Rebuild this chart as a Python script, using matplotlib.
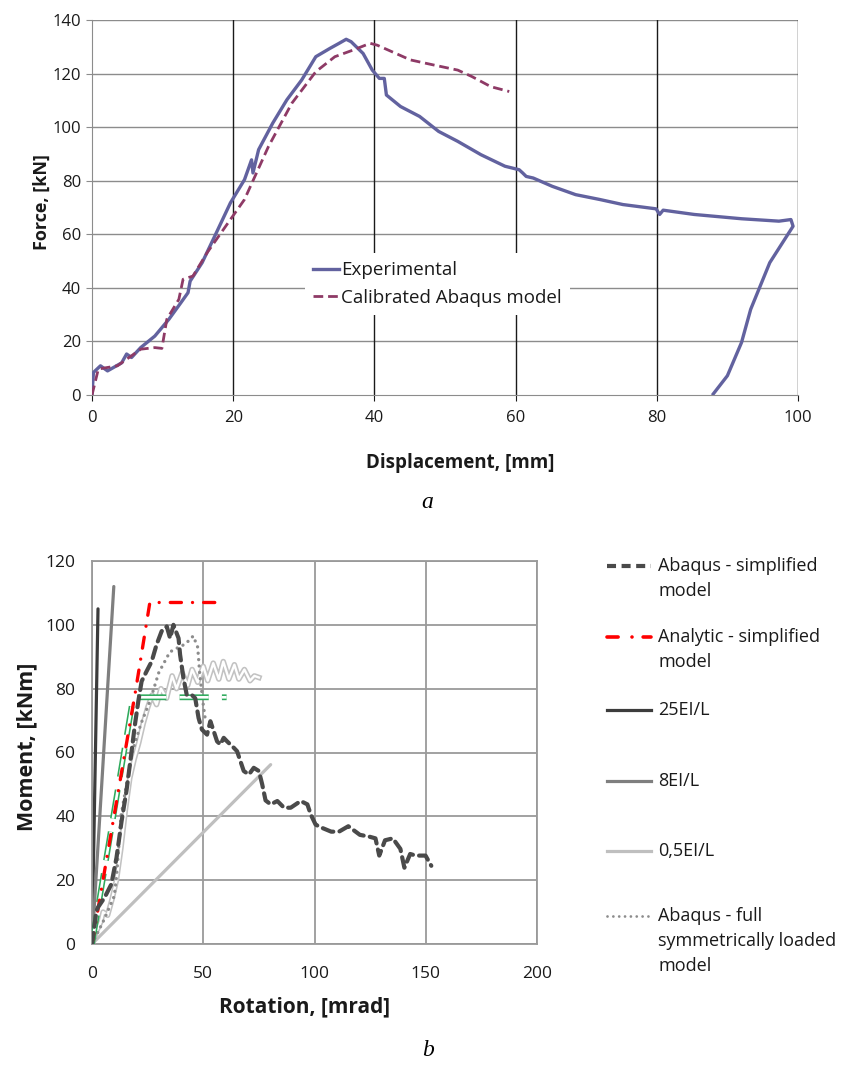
import matplotlib
matplotlib.use("Agg")
import matplotlib.pyplot as plt
from matplotlib.lines import Line2D

plt.rcParams['font.family'] = ['Open Sans', 'DejaVu Sans']
plt.rcParams['lines.scale_dashes'] = False

# ---------------- data: panel a ----------------
exp_disp = [0, 0.2, 1.2, 2.2, 3.2, 4.2, 4.9, 5.6, 6.9, 8.9, 10.9, 12.6, 13.6, 13.9, 15.6, 17.6,
            19.6, 21.6, 22.6, 22.8, 23.6, 25.6, 27.6, 29.7, 31.7, 33.7, 35.0, 36.0, 36.7, 38.4,
            39.7, 40.7, 41.4, 41.7, 43.7, 46.4, 49.1, 51.8, 55.1, 58.5, 60.5, 61.0, 61.5, 62.5,
            65.2, 68.5, 71.9, 75.2, 79.9, 80.4, 80.9, 85.3, 92.0, 97.3, 99.0, 99.3,
            96.0, 93.3, 92.0, 90.0, 88.0]
exp_force = [0, 8.4, 10.9, 9.0, 10.5, 12.0, 15.3, 14.0, 17.7, 22.0, 28.3, 34.5, 38.2, 42.5, 49.4, 60.5,
             71.7, 80.4, 87.8, 82.9, 91.6, 101.5, 110.2, 117.6, 126.3, 129.4, 131.3, 132.8, 131.9, 127.5,
             121.3, 118.2, 118.2, 112.0, 107.7, 104.0, 98.4, 94.7, 89.7, 85.4, 84.1, 82.9, 81.6, 81.0,
             77.9, 74.8, 73.0, 71.1, 69.5, 67.4, 69.0, 67.4, 65.8, 64.9, 65.5, 63.0,
             49.4, 32.0, 19.6, 7.2, 0.4]

cal_disp = [0, 0.9, 3.6, 6.9, 8.9, 9.9, 10.6, 12.3, 12.9, 14.3, 16.3, 19.6, 21.6, 25.0, 28.3,
            31.7, 34.4, 37.0, 39.4, 40.4, 45.1, 48.4, 51.8, 53.8, 56.5, 59.1]
cal_force = [0, 9.7, 10.9, 17.1, 17.7, 17.4, 28.3, 35.7, 43.2, 44.4, 53.1, 65.5, 73.0, 92.8, 108.9,
             120.7, 126.3, 128.8, 131.3, 130.6, 125.1, 123.2, 121.3, 118.9, 115.1, 113.3]

a_xticks = [0, 20, 40, 60, 80, 100]
a_yticks = [0, 20, 40, 60, 80, 100, 120, 140]

# ---------------- data: panel b ----------------
simp_rot = [0, 2.0, 2.7, 5.7, 8.7, 11.0, 13.3, 15.5, 17.8, 19.3, 20.8, 22.3, 24.5, 26.8, 29.0, 31.3,
            33.6, 35.1, 36.6, 38.9, 39.6, 41.1, 42.6, 44.9, 46.4, 47.9, 49.4, 51.7, 53.2, 54.7, 56.2,
            57.7, 59.2, 60.7, 63.7, 65.2, 68.2, 70.5, 72.7, 75.0, 76.5, 78.0, 80.3, 83.3, 86.3, 89.3,
            93.8, 96.8, 98.3, 100.5, 103.0, 107.5, 111.0, 115.2, 120.4, 124.8, 127.4, 129.1, 131.7,
            135.2, 138.6, 140.4, 143.0, 145.6, 149.9, 152.5]
simp_mom = [0, 10.4, 11.5, 14.6, 18.75, 27.0, 38.5, 48.0, 60.4, 68.75, 76.0, 82.3, 85.4, 88.5, 93.75, 98.0,
            99.5, 95.8, 100.0, 95.8, 90.6, 83.3, 78.0, 78.0, 77.0, 70.8, 67.2, 65.6, 69.8, 66.7, 63.5,
            62.5, 64.6, 63.5, 61.5, 60.4, 54.2, 53.1, 55.2, 54.2, 50.0, 45.0, 43.75, 44.8, 42.7, 42.7,
            44.8, 43.75, 40.6, 37.4, 36.5, 35.2, 35.2, 36.9, 34.2, 33.6, 33.1, 27.7, 32.5,
            33.1, 29.8, 23.9, 28.2, 27.7, 27.7, 24.5]

anal_rot = [0, 19.5, 26.0, 60.0]
anal_mom = [0, 79.0, 107.0, 107.0]

green_rot = [0, 18.5, 60.5]
green_mom = [0, 77.3, 77.3]

k25_rot = [0, 2.7]
k25_mom = [0, 105.0]
k8_rot = [0, 9.8]
k8_mom = [0, 112.0]
k05_rot = [0, 80.3]
k05_mom = [0, 56.2]

full_rot = [0, 5, 10, 11, 12, 13, 15, 18, 22, 26, 30, 35, 39, 42, 45.5, 47.5, 48.5, 50, 51]
full_mom = [0, 7, 15, 21, 30, 40, 48, 60, 69, 76, 85, 91.5, 93, 94, 96.5, 93, 84, 75, 70]

wave_rot = [0, 2, 4, 5, 7, 9, 11, 13, 15, 17, 19, 21, 23, 25, 27, 29, 31, 33.5, 36, 38, 40.5, 43,
            45, 47.5, 50, 52, 54.5, 57, 59, 61.5, 64, 66, 68.5, 71, 73, 75]
wave_mom = [0, 4, 7, 10, 9, 14, 20, 30, 42, 52, 58, 63, 69, 74, 78, 75, 80, 77, 84, 80, 85, 81,
            86, 82, 87, 82.5, 88, 83, 88.5, 83, 87.5, 83, 86, 82.5, 84, 83.5]

b_xticks = [0, 50, 100, 150, 200]
b_yticks = [0, 20, 40, 60, 80, 100, 120]

legend_b = ["Abaqus - simplified\nmodel", "Analytic - simplified\nmodel", "25EI/L", "8EI/L",
            "0,5EI/L", "Abaqus - full\nsymmetrically loaded\nmodel"]

W, H = 842, 1071
fig = plt.figure(figsize=(W / 100, H / 100), dpi=100)

def fx(px):
    return px / W

def fy(py):
    return 1 - py / H

TXT = '#1a1a1a'

# ---------------- panel a ----------------
ax1 = fig.add_axes([fx(92), fy(395), fx(798) - fx(92), fy(20) - fy(395)])
ax1.set_xlim(0, 100)
ax1.set_ylim(0, 140)
ax1.set_xticks(a_xticks)
ax1.set_yticks(a_yticks)
for y in a_yticks[1:]:
    ax1.axhline(y, color='#8c8c8c', lw=1.0, zorder=0)
for x in a_xticks[1:]:
    ax1.axvline(x, color='#1a1a1a', lw=1.0, zorder=0)
for s in ['top', 'right']:
    ax1.spines[s].set_visible(False)
ax1.spines['left'].set_color('#8c8c8c')
ax1.spines['bottom'].set_color('#8c8c8c')
ax1.tick_params(axis='y', length=4, color='#8c8c8c', labelsize=12, pad=4, labelcolor=TXT)
ax1.tick_params(axis='x', length=4, color='#1a1a1a', labelsize=12, pad=7, labelcolor=TXT)

l_exp, = ax1.plot(exp_disp, exp_force, color='#62629f', lw=2.4, zorder=3,
                  solid_joinstyle='round', label='Experimental')
l_cal, = ax1.plot(cal_disp, cal_force, color='#8e3a66', lw=2.0, zorder=4,
                  dashes=(7, 3.5), label='Calibrated Abaqus model')

ax1.set_xlabel('Displacement, [mm]', fontsize=13.5, fontweight='bold', color=TXT)
ax1.xaxis.label.set_va('center')
ax1.xaxis.set_label_coords((460 - 92) / 706, (395 - 463) / 375)
ax1.set_ylabel('Force, [kN]', fontsize=13, fontweight='bold', color=TXT)
ax1.yaxis.label.set_va('center')
ax1.yaxis.set_label_coords((42 - 92) / 706, (395 - 202) / 375)

leg = ax1.legend(handles=[l_exp, l_cal], loc='upper left',
                 bbox_to_anchor=((305 - 92) / 706, (395 - 253) / 375),
                 frameon=True, fancybox=False, edgecolor='none', facecolor='white',
                 framealpha=1, fontsize=13.5, handlelength=1.35, handletextpad=0.12,
                 labelspacing=0.5, borderpad=0.45, borderaxespad=0)
for t in leg.get_texts():
    t.set_color(TXT)

fig.text(fx(427), fy(503), 'a', fontsize=17, style='italic',
         family='Liberation Serif', ha='center', va='center')

# ---------------- panel b ----------------
ax2 = fig.add_axes([fx(92), fy(944), fx(537) - fx(92), fy(561) - fy(944)])
ax2.set_xlim(0, 200)
ax2.set_ylim(0, 120)
ax2.set_xticks(b_xticks)
ax2.set_yticks(b_yticks)
ax2.grid(True, color='#9a9a9a', lw=1.3, zorder=0)
ax2.set_axisbelow(True)
for s in ax2.spines.values():
    s.set_color('#9a9a9a')
    s.set_linewidth(1.3)
ax2.tick_params(length=0, labelsize=12.5, labelcolor=TXT)
ax2.tick_params(axis='y', pad=12)
ax2.tick_params(axis='x', pad=16)

c_simp = '#4a4a4a'
c_red = '#ff0000'
c_25 = '#3c3c3c'
c_8 = '#7f7f7f'
c_05 = '#bfbfbf'
c_full = '#8c8c8c'
c_green = '#2eaa5c'

ax2.plot(k05_rot, k05_mom, color=c_05, lw=2.3, solid_capstyle='round', zorder=2)
ax2.plot(k25_rot, k25_mom, color=c_25, lw=2.3, solid_capstyle='round', zorder=2)
ax2.plot(k8_rot, k8_mom, color=c_8, lw=2.3, solid_capstyle='round', zorder=2)
ax2.plot(wave_rot, wave_mom, color='#c2c2c2', lw=4.0, zorder=3, solid_joinstyle='round')
ax2.plot(wave_rot, wave_mom, color='white', lw=1.7, zorder=3, solid_joinstyle='round')
ax2.plot(full_rot, full_mom, color=c_full, lw=2.4, dashes=(0.01, 4.6),
         dash_capstyle='round', zorder=4)
ax2.plot(green_rot, green_mom, color=c_green, lw=4.2, dashes=(21, 9.5), zorder=5)
ax2.plot(green_rot, green_mom, color='white', lw=1.9, dashes=(21, 9.5), zorder=5)
ax2.plot(anal_rot, anal_mom, color=c_red, lw=2.4, dashes=(8, 8, 0.01, 8),
         dash_capstyle='round', zorder=6)
ax2.plot(simp_rot, simp_mom, color=c_simp, lw=3.0, dashes=(8, 4.5),
         dash_capstyle='round', zorder=7)

ax2.set_xlabel('Rotation, [mrad]', fontsize=15, fontweight='bold', color=TXT)
ax2.xaxis.label.set_va('center')
ax2.xaxis.set_label_coords((305 - 92) / 445, (944 - 1007) / 383)
ax2.set_ylabel('Moment, [kNm]', fontsize=15.5, fontweight='bold', color=TXT)
ax2.yaxis.label.set_va('center')
ax2.yaxis.set_label_coords((27 - 92) / 445, (944 - 747) / 383)

# legend for panel b (drawn at the right of the axes)
leg_styles = [
    dict(color=c_simp, lw=3.0, dashes=(6.5, 4), dash_capstyle='butt'),
    dict(color=c_red, lw=2.6, dashes=(8, 10, 0.01, 8), dash_capstyle='round'),
    dict(color=c_25, lw=2.3),
    dict(color=c_8, lw=2.3),
    dict(color=c_05, lw=2.3),
    dict(color=c_full, lw=2.0, dashes=(0.01, 4.2), dash_capstyle='round'),
]
leg_y = [566, 637, 710, 781, 851, 916]
for lab, sty, yy in zip(legend_b, leg_styles, leg_y):
    fig.add_artist(Line2D([fx(607), fx(651)], [fy(yy), fy(yy)],
                          transform=fig.transFigure, **sty))
    fig.text(fx(658), fy(yy - 9), lab, fontsize=13, ha='left', va='top',
             linespacing=1.5, color=TXT)

fig.text(fx(428), fy(1050), 'b', fontsize=17, style='italic',
         family='Liberation Serif', ha='center', va='center')

fig.savefig('out.png', dpi=100)
